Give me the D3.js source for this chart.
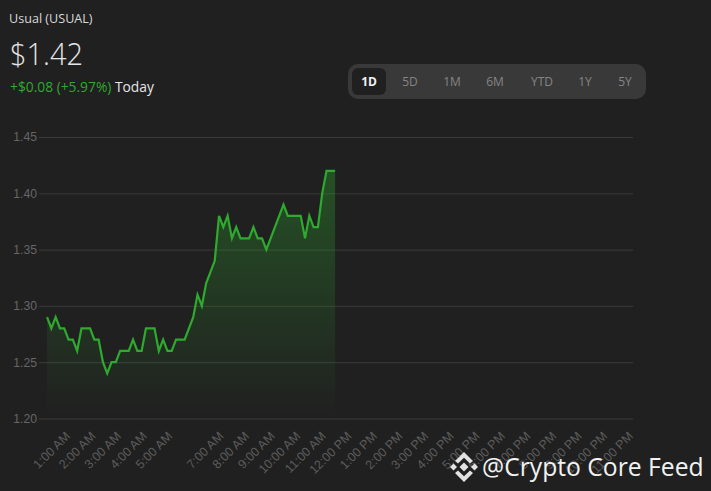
<!DOCTYPE html>
<html>
<head>
<meta charset="utf-8">
<script src="https://cdn.jsdelivr.net/npm/d3@7"></script>
<style>
  html, body { margin: 0; padding: 0; background: #202020; overflow: hidden; }
  svg { display: block; }
  text { font-family: "Open Sans", sans-serif; }
  .axis text { font-family: "Liberation Sans", sans-serif; fill: #666; }
</style>
</head>
<body>
<svg id="chart"></svg>
<script>
// USUAL intraday price, one sample about every 10 minutes
var prices = [1.29,1.28,1.29,1.28,1.28,1.27,1.27,1.26,1.28,1.28,1.28,1.27,1.27,1.25,1.24,1.25,1.25,
  1.26,1.26,1.26,1.27,1.26,1.26,1.28,1.28,1.28,1.26,1.27,1.26,1.26,1.27,1.27,1.27,1.28,1.29,
  1.31,1.30,1.32,1.33,1.34,1.38,1.37,1.38,1.36,1.37,1.36,1.36,1.36,1.37,1.36,1.36,1.35,1.36,
  1.37,1.38,1.39,1.38,1.38,1.38,1.38,1.36,1.38,1.37,1.37,1.40,1.42,1.42,1.42];
var sampleStartMin = 5.5, sampleStepMin = 10.08;

var yTicks = [1.20, 1.25, 1.30, 1.35, 1.40, 1.45];
// hour of day for each label, 6:00 AM is missing on the original
var xTickHours = [1,2,3,4,5,7,8,9,10,11,12,13,14,15,16,17,18,19,20,21,22,23];
var ranges = ["1D","5D","1M","6M","YTD","1Y","5Y"];
var rangeCenters = [369,410,452,495,542,585,625];

var width = 711, height = 491;

var svg = d3.select("#chart").attr("width", width).attr("height", height);

var x = d3.scaleLinear().domain([60, 1380]).range([70.3, 633.3]);
var y = d3.scaleLinear().domain([1.20, 1.45]).range([418.5, 137]);

function hourLabel(h) {
  var ampm = h < 12 ? "AM" : "PM";
  var h12 = h % 12 === 0 ? 12 : h % 12;
  return h12 + ":00 " + ampm;
}

var defs = svg.append("defs");
var grad = defs.append("linearGradient")
    .attr("id", "areaFill")
    .attr("gradientUnits", "userSpaceOnUse")
    .attr("x1", 0).attr("x2", 0)
    .attr("y1", 170).attr("y2", 418);
grad.append("stop").attr("offset", 0).attr("stop-color", "#2fa82f").attr("stop-opacity", 0.36);
grad.append("stop").attr("offset", 1).attr("stop-color", "#2fa82f").attr("stop-opacity", 0);

// y axis and grid
var yAxis = svg.append("g")
    .attr("class", "axis")
    .attr("transform", "translate(633,0)")
    .call(d3.axisLeft(y).tickValues(yTicks).tickFormat(d3.format(".2f")).tickSize(594).tickPadding(2));
yAxis.select(".domain").remove();
yAxis.selectAll("line").attr("stroke", "#3a3a3a");
yAxis.selectAll("text").style("font-size", "12.2px");

// x axis labels, no tick marks
var xAxis = svg.append("g")
    .attr("class", "axis")
    .attr("transform", "translate(0,418)")
    .call(d3.axisBottom(x).tickValues(xTickHours.map(function(h){ return h * 60; }))
      .tickFormat(function(d){ return hourLabel(d / 60); }).tickSize(0));
xAxis.select(".domain").remove();
xAxis.selectAll("text")
    .style("font-size", "12.5px")
    .style("fill", "#5c5c5c")
    .attr("text-anchor", "end")
    .attr("dx", 0)
    .attr("dy", 0)
    .attr("y", 0)
    .attr("transform", "translate(0,19) rotate(-45)");

var px = function(d, i){ return x(sampleStartMin + i * sampleStepMin); };

var area = d3.area().x(px).y0(y(1.20)).y1(function(d){ return y(d); });
var line = d3.line().x(px).y(function(d){ return y(d); });

svg.append("path").datum(prices).attr("d", area).attr("fill", "url(#areaFill)");
svg.append("path").datum(prices).attr("d", line)
    .attr("fill", "none")
    .attr("stroke", "#2eaa2e")
    .attr("stroke-width", 2.2)
    .attr("stroke-linejoin", "miter");

// header
svg.append("text").attr("x", 9).attr("y", 23)
    .attr("fill", "#d8d8d8").style("font-size", "12.6px").text("Usual (USUAL)");
svg.append("text").attr("x", 10).attr("y", 65)
    .attr("fill", "#e6e6e6").style("font-size", "31px").style("font-weight", "300")
    .attr("textLength", 73).attr("lengthAdjust", "spacingAndGlyphs").text("$1.42");
var change = svg.append("text").attr("x", 10).attr("y", 92).style("font-size", "13.8px");
change.append("tspan").attr("fill", "#2eaa2e").text("+$0.08 (+5.97%) ");
change.append("tspan").attr("fill", "#e6e6e6").text("Today");

// range buttons
svg.append("rect").attr("x", 348).attr("y", 64).attr("width", 298).attr("height", 35)
    .attr("rx", 10).attr("fill", "#393939");
svg.append("rect").attr("x", 352).attr("y", 68).attr("width", 34).attr("height", 27)
    .attr("rx", 6).attr("fill", "#202020");
svg.selectAll(".range").data(ranges).enter().append("text")
    .attr("class", "range")
    .attr("x", function(d, i){ return rangeCenters[i]; })
    .attr("y", 86)
    .attr("text-anchor", "middle")
    .attr("fill", function(d, i){ return i === 0 ? "#f0f0f0" : "#858585"; })
    .style("font-size", "12px")
    .style("font-weight", function(d, i){ return i === 0 ? "700" : "500"; })
    .text(function(d){ return d; });

// watermark
var logo = svg.append("g").attr("transform", "translate(464,467)").attr("fill", "#e2e2e2");
logo.append("path").attr("d", "M0,-4.5L4.5,0L0,4.5L-4.5,0Z");
logo.append("path").attr("d", "M-14,0L-10.5,-3.5L-7,0L-10.5,3.5Z");
logo.append("path").attr("d", "M14,0L10.5,-3.5L7,0L10.5,3.5Z");
logo.append("path").attr("d", "M0,-15L9,-6L6,-3.4L0,-9.2L-6,-3.4L-9,-6Z");
logo.append("path").attr("d", "M0,15L9,6L6,3.4L0,9.2L-6,3.4L-9,6Z");

svg.append("text").attr("x", 482).attr("y", 476)
    .attr("fill", "#f2f2f2").style("font-size", "24.7px").text("@Crypto Core Feed");
</script>
</body>
</html>
